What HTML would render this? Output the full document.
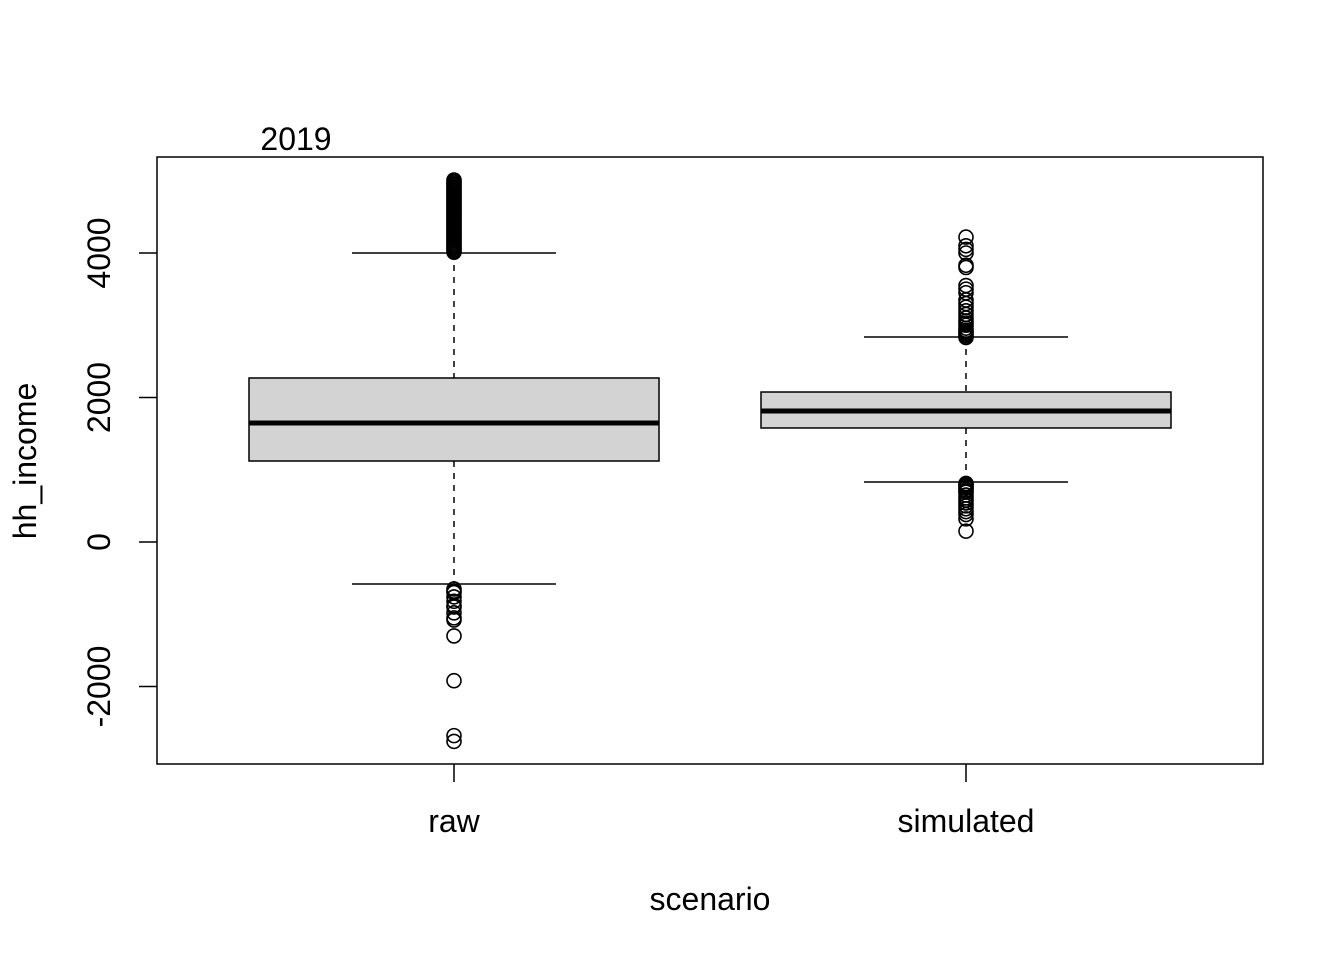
<!DOCTYPE html>
<html><head><meta charset="utf-8"><style>
body{margin:0;background:#fff}
svg text{font-family:"Liberation Sans",sans-serif;font-size:32px;fill:#000}
</style></head><body>
<svg width="1344" height="960" xmlns="http://www.w3.org/2000/svg">
<rect x="0" y="0" width="1344" height="960" fill="#fff"/>
<g id="marks"></g>
<rect x="157" y="157" width="1106" height="607" fill="none" stroke="#000" stroke-width="1.5"/>
<g id="axes"></g>
<text x="296" y="150" text-anchor="middle">2019</text>
<text x="710" y="910" text-anchor="middle">scenario</text>
<text transform="translate(36,461) rotate(-90)" text-anchor="middle">hh_income</text>
</svg>
<script>
const categories=["raw","simulated"];
const q1=[1121,1578];
const medians=[1647,1813];
const q3=[2270,2076];
const whiskLo=[-581,830];
const whiskHi=[4000,2837];
const outliersRaw=[4010,4030,4050,4070,4090,4110,4130,4150,4170,4190,4210,4230,4250,4270,4290,4310,4330,4350,4370,4390,4410,4430,4450,4470,4490,4510,4530,4550,4570,4590,4610,4630,4650,4670,4690,4710,4730,4750,4770,4790,4810,4830,4850,4870,4890,4910,4930,4950,4970,4990,5010,-650,-680,-700,-760,-820,-880,-900,-980,-1050,-1080,-1300,-1920,-2680,-2760];
const outliersSim=[2830,2850,2870,2890,2910,2930,2960,3000,3030,3060,3100,3150,3200,3250,3300,3350,3450,3500,3550,3800,3830,4000,4050,4100,4220,810,800,780,760,750,720,700,690,650,610,580,540,500,460,420,380,320,150];
const yTicks=[-2000,0,2000,4000];
const outliers=[outliersRaw,outliersSim];
const NS="http://www.w3.org/2000/svg";
const X=i=>454+i*512;
const Y=v=>542-v*0.07225;
const marks=document.getElementById('marks'),axes=document.getElementById('axes');
function mk(p,tag,a){const e=document.createElementNS(NS,tag);for(const k in a)e.setAttribute(k,a[k]);p.appendChild(e);return e;}
categories.forEach((c,i)=>{
 const x=X(i);
 let e=mk(marks,'line',{x1:x,x2:x,y1:Y(whiskHi[i]),y2:Y(q3[i]),stroke:'#000','stroke-width':1.5,'stroke-dasharray':'6,6'});
 
 e=mk(marks,'line',{x1:x,x2:x,y1:Y(q1[i]),y2:Y(whiskLo[i]),stroke:'#000','stroke-width':1.5,'stroke-dasharray':'6,6'});
 
 e=mk(marks,'line',{x1:x-102,x2:x+102,y1:Y(whiskHi[i]),y2:Y(whiskHi[i]),stroke:'#000','stroke-width':1.5});
 
 e=mk(marks,'line',{x1:x-102,x2:x+102,y1:Y(whiskLo[i]),y2:Y(whiskLo[i]),stroke:'#000','stroke-width':1.5});
 
 e=mk(marks,'rect',{x:x-205,y:Y(q3[i]),width:410,height:Y(q1[i])-Y(q3[i]),fill:'#d3d3d3',stroke:'#000','stroke-width':1.5});
 
 e=mk(marks,'line',{x1:x-205,x2:x+205,y1:Y(medians[i]),y2:Y(medians[i]),stroke:'#000','stroke-width':5});
 
 outliers[i].forEach(v=>{
  const o=mk(marks,'circle',{cx:x,cy:Y(v),r:7,fill:'none',stroke:'#000','stroke-width':1.6});
  
 });
 e=mk(axes,'line',{x1:x,x2:x,y1:764,y2:782,stroke:'#000','stroke-width':1.5});
 
 e=mk(axes,'text',{x:x,y:832,'text-anchor':'middle'});e.textContent=c;
 
});
yTicks.forEach(v=>{
 const y=Y(v);
 let e=mk(axes,'line',{x1:139,x2:157,y1:y,y2:y,stroke:'#000','stroke-width':1.5});
 
 e=mk(axes,'text',{transform:`translate(110,${y}) rotate(-90)`,'text-anchor':'middle'});e.textContent=v;
 
});
</script>
</body></html>
